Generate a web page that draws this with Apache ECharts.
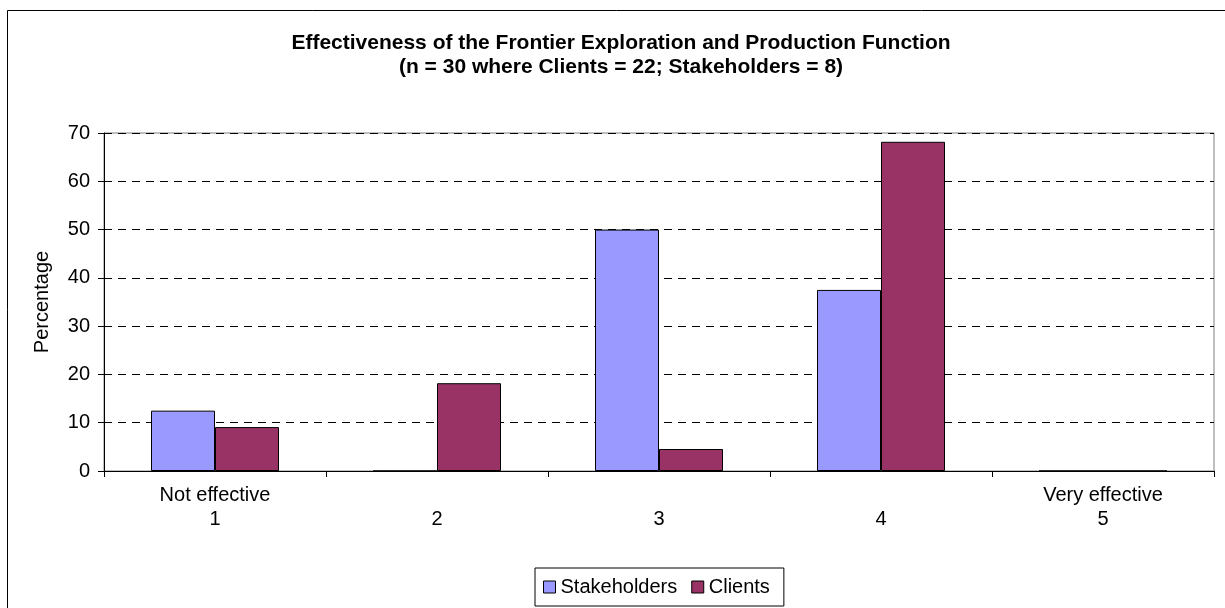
<!DOCTYPE html>
<html><head><meta charset="utf-8">
<script src="https://cdn.jsdelivr.net/npm/echarts@6/dist/echarts.min.js"></script>
<style>html,body{margin:0;padding:0;background:#fff}#c{width:1225px;height:608px}</style>
</head><body><div id="c"></div>
<script>
const categories = ['Not effective\n1', ' \n2', ' \n3', ' \n4', 'Very effective\n5'];
const stakeholders = [12.5, 0, 50, 37.5, 0];
const clients = [9.09, 18.18, 4.55, 68.18, 0];
const seriesNames = ['Stakeholders', 'Clients'];
const titleLines = ['Effectiveness of the Frontier Exploration and Production Function', '(n = 30 where Clients = 22; Stakeholders = 8)'];
const yAxisName = 'Percentage';

const font = 'Liberation Sans, Arial, sans-serif';
const chart = echarts.init(document.getElementById('c'), null, {renderer: 'canvas'});
chart.setOption({
  animation: false,
  backgroundColor: '#fff',
  graphic: [{
    type: 'rect', shape: {x: 7.5, y: 10.5, width: 1400, height: 800},
    style: {fill: 'none', stroke: '#000', lineWidth: 1}, silent: true, z: 100
  }, {
    type: 'text', x: 621, y: 31, silent: true,
    style: {text: titleLines.join('\n'), align: 'center', verticalAlign: 'top',
      font: 'bold 21px Liberation Sans, Arial, sans-serif', lineHeight: 24, fill: '#000'}
  }],
  legend: {
    data: seriesNames,
    left: 535, top: 568,
    padding: [9, 14, 9, 8],
    itemGap: 14, itemWidth: 12, itemHeight: 12,
    borderColor: '#000', borderWidth: 1,
    icon: 'rect',
    itemStyle: {borderColor: '#000', borderWidth: 1},
    textStyle: {fontFamily: font, fontSize: 20, color: '#000'}
  },
  grid: {
    left: 104, right: 11, top: 133, bottom: 137,
    show: true, borderColor: '#808080', borderWidth: 1
  },
  xAxis: {
    type: 'category', data: categories,
    axisLine: {lineStyle: {color: '#000', width: 1}},
    axisTick: {show: true, length: 6, lineStyle: {color: '#000'}},
    axisLabel: {fontFamily: font, fontSize: 20, color: '#000', margin: 12, lineHeight: 24, interval: 0},
    splitLine: {show: false}
  },
  yAxis: {
    type: 'value', min: 0, max: 70, interval: 10,
    name: yAxisName, nameLocation: 'middle', nameGap: 52, nameRotate: 90,
    nameTextStyle: {fontFamily: font, fontSize: 20, color: '#000'},
    axisLine: {show: true, lineStyle: {color: '#000', width: 1}},
    axisTick: {show: true, length: 6, lineStyle: {color: '#000'}},
    axisLabel: {fontFamily: font, fontSize: 20, color: '#000', margin: 14},
    splitLine: {show: true, lineStyle: {color: '#000', type: [8, 6], width: 1}}
  },
  series: [
    {name: seriesNames[0], type: 'bar', data: stakeholders, barWidth: 64, barGap: '0%',
     itemStyle: {color: '#9999FF', borderColor: '#000', borderWidth: 1}},
    {name: seriesNames[1], type: 'bar', data: clients, barWidth: 64, barGap: '0%',
     itemStyle: {color: '#993366', borderColor: '#000', borderWidth: 1}}
  ]
});
</script></body></html>
